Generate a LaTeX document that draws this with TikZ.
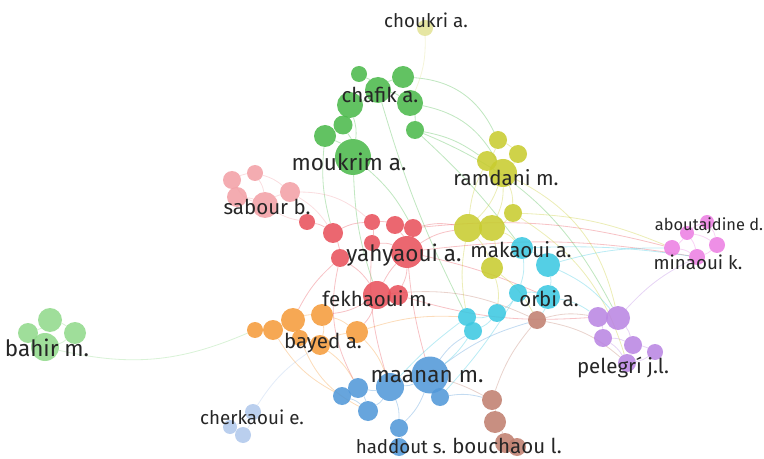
\documentclass[tikz,border=0pt]{standalone}
\usepackage{fontspec}
\setmainfont{Fira Sans}
\usetikzlibrary{positioning}

\definecolor{cgreen}{RGB}{76,186,76}
\definecolor{clgreen}{RGB}{146,218,140}
\definecolor{clyellow}{RGB}{226,226,150}
\definecolor{cred}{RGB}{232,82,92}
\definecolor{cpink}{RGB}{242,160,166}
\definecolor{cyellow}{RGB}{200,204,48}
\definecolor{ccyan}{RGB}{60,200,225}
\definecolor{cbrown}{RGB}{192,128,112}
\definecolor{cpurple}{RGB}{186,134,226}
\definecolor{cmag}{RGB}{236,128,226}
\definecolor{corange}{RGB}{245,156,60}
\definecolor{clblue}{RGB}{176,200,236}
\definecolor{cblue}{RGB}{82,152,216}

\pgfdeclarelayer{bg}
\pgfsetlayers{bg,main}

\begin{document}
\begin{tikzpicture}[x=0.03cm,y=-0.03cm,
		au/.style={circle,inner sep=0pt,fill opacity=.88},
		rad/.style={minimum size=#1*1.707pt},
		lab/.style={text=black!85,inner sep=0pt},
		xl/.style={font=\fontsize{19.2}{19.2}\selectfont},
		lg/.style={font=\fontsize{17.5}{17.5}\selectfont},
		md/.style={font=\fontsize{16}{16}\selectfont},
		sm/.style={font=\fontsize{14}{14}\selectfont},
		lk/.style={draw opacity=.35,line width=.7pt,bend left=12}]
		\useasboundingbox (0,0) rectangle (764,459);

		% green cluster
		\node[au,fill=clyellow,rad=8] (choukri) at (425,28) {};
		\node[au,fill=cgreen,rad=8] (ch1) at (359,74) {};
		\node[au,fill=cgreen,rad=13] (chafik) at (378,90) {};
		\node[au,fill=cgreen,rad=11] (ch3) at (403,77) {};
		\node[au,fill=cgreen,rad=13] (ch4) at (350,105) {};
		\node[au,fill=cgreen,rad=13] (ch5) at (410,103) {};
		\node[au,fill=cgreen,rad=9.5] (ch6) at (343,125) {};
		\node[au,fill=cgreen,rad=11] (ch7) at (325,136) {};
		\node[au,fill=cgreen,rad=9] (ch8) at (415,130) {};
		\node[au,fill=cgreen,rad=18] (moukrim) at (353,157) {};

		% pink cluster
		\node[au,fill=cpink,rad=9] (sb1) at (232,180) {};
		\node[au,fill=cpink,rad=8] (sb2) at (255,173) {};
		\node[au,fill=cpink,rad=10] (sb3) at (237,197) {};
		\node[au,fill=cpink,rad=13] (sabour) at (265,205) {};
		\node[au,fill=cpink,rad=10] (sb5) at (290,192) {};

		% red cluster
		\node[au,fill=cred,rad=8] (r1) at (307,222) {};
		\node[au,fill=cred,rad=10] (r2) at (333,233) {};
		\node[au,fill=cred,rad=8] (r3) at (372,222) {};
		\node[au,fill=cred,rad=9] (r4) at (395,225) {};
		\node[au,fill=cred,rad=9] (r5) at (413,228) {};
		\node[au,fill=cred,rad=8] (r6) at (372,243) {};
		\node[au,fill=cred,rad=16] (yahyaoui) at (407,252) {};
		\node[au,fill=cred,rad=9] (r8) at (340,258) {};
		\node[au,fill=cred,rad=14] (fekhaoui) at (377,295) {};
		\node[au,fill=cred,rad=10] (r10) at (398,295) {};

		% yellow cluster
		\node[au,fill=cyellow,rad=9] (y1) at (498,140) {};
		\node[au,fill=cyellow,rad=9] (y2) at (518,154) {};
		\node[au,fill=cyellow,rad=10] (y3) at (487,161) {};
		\node[au,fill=cyellow,rad=14] (ramdani) at (503,173) {};
		\node[au,fill=cyellow,rad=9] (y5) at (513,213) {};
		\node[au,fill=cyellow,rad=14] (y6) at (468,228) {};
		\node[au,fill=cyellow,rad=13] (y7) at (492,228) {};
		\node[au,fill=cyellow,rad=11] (y8) at (492,268) {};

		% cyan cluster
		\node[au,fill=ccyan,rad=11] (makaoui) at (522,248) {};
		\node[au,fill=ccyan,rad=12] (c2) at (548,265) {};
		\node[au,fill=ccyan,rad=9] (c3) at (518,293) {};
		\node[au,fill=ccyan,rad=12] (orbi) at (548,297) {};
		\node[au,fill=ccyan,rad=9] (c5) at (497,313) {};
		\node[au,fill=ccyan,rad=9] (c6) at (467,317) {};
		\node[au,fill=ccyan,rad=9] (c7) at (473,331) {};

		% brown cluster
		\node[au,fill=cbrown,rad=9] (br1) at (537,320) {};
		\node[au,fill=cbrown,rad=10] (br2) at (492,400) {};
		\node[au,fill=cbrown,rad=11] (br3) at (495,422) {};
		\node[au,fill=cbrown,rad=10] (bouchaou) at (505,443) {};
		\node[au,fill=cbrown,rad=9] (br5) at (517,447) {};

		% purple cluster
		\node[au,fill=cpurple,rad=10] (p1) at (598,317) {};
		\node[au,fill=cpurple,rad=12] (p2) at (618,318) {};
		\node[au,fill=cpurple,rad=9] (p3) at (603,338) {};
		\node[au,fill=cpurple,rad=9] (p4) at (633,345) {};
		\node[au,fill=cpurple,rad=8] (p5) at (655,352) {};
		\node[au,fill=cpurple,rad=9] (pelegri) at (627,363) {};

		% magenta cluster
		\node[au,fill=cmag,rad=7] (m1) at (687,233) {};
		\node[au,fill=cmag,rad=7] (aboutajdine) at (707,222) {};
		\node[au,fill=cmag,rad=8] (m3) at (717,245) {};
		\node[au,fill=cmag,rad=8] (m4) at (672,248) {};
		\node[au,fill=cmag,rad=8] (minaoui) at (697,257) {};

		% light green cluster
		\node[au,fill=clgreen,rad=12] (bh1) at (50,320) {};
		\node[au,fill=clgreen,rad=11] (bh2) at (75,333) {};
		\node[au,fill=clgreen,rad=10] (bh3) at (28,333) {};
		\node[au,fill=clgreen,rad=14] (bahir) at (45,347) {};

		% orange cluster
		\node[au,fill=corange,rad=8] (o1) at (255,330) {};
		\node[au,fill=corange,rad=10] (o2) at (273,330) {};
		\node[au,fill=corange,rad=12] (o3) at (293,320) {};
		\node[au,fill=corange,rad=11] (o4) at (322,315) {};
		\node[au,fill=corange,rad=8] (o5) at (300,338) {};
		\node[au,fill=corange,rad=10] (bayed) at (320,345) {};
		\node[au,fill=corange,rad=11] (o7) at (357,332) {};

		% light blue cluster
		\node[au,fill=clblue,rad=8] (ck1) at (253,412) {};
		\node[au,fill=clblue,rad=8] (ck2) at (243,435) {};
		\node[au,fill=clblue,rad=7] (cherkaoui) at (230,427) {};

		% blue cluster
		\node[au,fill=cblue,rad=18.5] (maanan) at (430,375) {};
		\node[au,fill=cblue,rad=14] (bl2) at (390,387) {};
		\node[au,fill=cblue,rad=10] (bl3) at (358,388) {};
		\node[au,fill=cblue,rad=9] (bl4) at (342,396) {};
		\node[au,fill=cblue,rad=10] (bl5) at (368,411) {};
		\node[au,fill=cblue,rad=9] (bl6) at (440,397) {};
		\node[au,fill=cblue,rad=9] (bl7) at (399,428) {};
		\node[au,fill=cblue,rad=9] (haddout) at (399,447) {};

		\begin{pgfonlayer}{bg}
		% links
		\path[draw=clgreen] (bahir) edge[lk,bend right=18] (o1);
		\path[draw=clblue] (ck1) edge[lk] (bayed);
		\path[draw=clyellow] (choukri) edge[lk] (ch5);
		\path[draw=cgreen] (ch1) edge[lk] (chafik) (chafik) edge[lk] (ch3) (chafik) edge[lk] (ch4)
			(chafik) edge[lk] (ch5) (ch4) edge[lk] (ch6) (ch6) edge[lk] (ch7) (ch5) edge[lk] (ch8)
			(ch7) edge[lk] (moukrim) (ch6) edge[lk] (moukrim) (ch4) edge[lk] (moukrim)
			(ch3) edge[lk,bend left=30] (y1) (ch5) edge[lk,bend left=25] (ramdani) (ch8) edge[lk] (y3)
			(ch8) edge[lk,bend left=5] (makaoui) (moukrim) edge[lk,bend right=8] (fekhaoui)
			(moukrim) edge[lk,bend left=10] (r5) (ch7) edge[lk,bend right=10] (r2)
			(chafik) edge[lk,bend right=5] (c6) (ch8) edge[lk,bend left=20] (p2);
		\path[draw=cpink] (sb1) edge[lk] (sb2) (sb1) edge[lk] (sb3) (sb2) edge[lk] (sabour)
			(sb3) edge[lk] (sabour) (sabour) edge[lk] (sb5) (sb2) edge[lk] (sb5) (sb1) edge[lk,bend right=20] (sabour)
			(sabour) edge[lk,bend right=10] (r1) (sb5) edge[lk] (r2) (sb5) edge[lk,bend left=20] (r3);
		\path[draw=cred] (r1) edge[lk] (r2) (r2) edge[lk] (r8) (r3) edge[lk] (r4) (r4) edge[lk] (r5)
			(r3) edge[lk] (r6) (r6) edge[lk] (yahyaoui) (r4) edge[lk] (yahyaoui) (r5) edge[lk] (yahyaoui)
			(r8) edge[lk] (fekhaoui) (fekhaoui) edge[lk] (r10) (yahyaoui) edge[lk] (r10)
			(yahyaoui) edge[lk,bend right=8] (fekhaoui) (r2) edge[lk] (r3)
			(yahyaoui) edge[lk] (y6) (r5) edge[lk] (y6) (yahyaoui) edge[lk,bend left=8] (minaoui)
			(r5) edge[lk,bend left=10] (m4) (r10) edge[lk,bend right=10] (p1)
			(fekhaoui) edge[lk] (o4) (r8) edge[lk,bend right=10] (o3) (fekhaoui) edge[lk] (o7)
			(yahyaoui) edge[lk,bend left=5] (orbi) (r8) edge[lk,bend right=20] (bl3)
			(yahyaoui) edge[lk,bend right=5] (maanan) (r6) edge[lk,bend right=10] (bl2);
		\path[draw=cyellow] (y1) edge[lk] (y2) (y1) edge[lk] (y3) (y3) edge[lk] (ramdani) (y2) edge[lk] (ramdani)
			(ramdani) edge[lk] (y5) (ramdani) edge[lk] (y6) (ramdani) edge[lk] (y7) (y6) edge[lk] (y7)
			(y5) edge[lk] (y7) (y7) edge[lk] (y8) (y6) edge[lk] (y8) (y3) edge[lk,bend right=10] (y6)
			(ramdani) edge[lk,bend left=25] (p2) (y5) edge[lk,bend left=10] (m4)
			(y7) edge[lk] (makaoui) (y8) edge[lk] (c5) (y6) edge[lk,bend right=10] (c6)
			(y5) edge[lk,bend left=20] (pelegri) (y8) edge[lk] (br1);
		\path[draw=ccyan] (makaoui) edge[lk] (c2) (makaoui) edge[lk] (c3) (c2) edge[lk] (orbi)
			(c3) edge[lk] (orbi) (c3) edge[lk] (c5) (c5) edge[lk] (c6) (c6) edge[lk] (c7) (c5) edge[lk] (c7)
			(c2) edge[lk,bend left=8] (m4) (makaoui) edge[lk,bend left=5] (minaoui)
			(orbi) edge[lk] (p1) (c2) edge[lk] (p2) (orbi) edge[lk] (br1)
			(c7) edge[lk,bend left=8] (maanan) (c6) edge[lk,bend right=5] (bl2)
			(c3) edge[lk,bend left=5] (bl6);
		\path[draw=cbrown] (br1) edge[lk] (p1) (br1) edge[lk,bend right=10] (br2) (br2) edge[lk] (br3)
			(br3) edge[lk] (bouchaou) (bouchaou) edge[lk] (br5) (br1) edge[lk,bend left=15] (pelegri)
			(br2) edge[lk,bend right=5] (maanan) (br1) edge[lk,bend right=15] (fekhaoui);
		\path[draw=cpurple] (p1) edge[lk] (p2) (p1) edge[lk] (p3) (p2) edge[lk] (p4) (p3) edge[lk] (p4)
			(p4) edge[lk] (p5) (p3) edge[lk] (pelegri) (p4) edge[lk] (pelegri) (p5) edge[lk] (pelegri)
			(p2) edge[lk,bend left=10] (minaoui);
		\path[draw=cmag] (m1) edge[lk] (aboutajdine) (aboutajdine) edge[lk] (m3) (m1) edge[lk] (m4)
			(m4) edge[lk] (minaoui) (m3) edge[lk] (minaoui) (m1) edge[lk] (minaoui) (m1) edge[lk] (m3);
		\path[draw=clgreen] (bh1) edge[lk] (bh2) (bh1) edge[lk] (bh3) (bh3) edge[lk] (bahir)
			(bh2) edge[lk] (bahir);
		\path[draw=corange] (o1) edge[lk] (o2) (o2) edge[lk] (o3) (o3) edge[lk] (o4) (o3) edge[lk] (o5)
			(o5) edge[lk] (bayed) (o4) edge[lk] (bayed) (bayed) edge[lk] (o7) (o4) edge[lk] (o7)
			(o2) edge[lk,bend right=15] (bl4) (bayed) edge[lk] (bl3) (o7) edge[lk] (bl2)
			(o5) edge[lk,bend right=20] (bl5) (o7) edge[lk,bend left=10] (c6);
		\path[draw=clblue] (ck1) edge[lk] (ck2) (ck2) edge[lk] (cherkaoui) (ck1) edge[lk] (cherkaoui);
		\path[draw=cblue] (maanan) edge[lk] (bl2) (bl2) edge[lk] (bl3) (bl3) edge[lk] (bl4)
			(bl3) edge[lk] (bl5) (bl2) edge[lk] (bl5) (maanan) edge[lk] (bl6) (bl2) edge[lk] (bl7)
			(bl7) edge[lk] (haddout) (maanan) edge[lk] (bl7) (bl4) edge[lk] (bl5)
			(maanan) edge[lk] (c7) (bl6) edge[lk] (br2) (maanan) edge[lk,bend left=10] (br1);
		\end{pgfonlayer}

		% labels
		\node[lab,md] at (426,20) {choukri a.};
		\node[lab,lg] at (380,95) {chafik a.};
		\node[lab,xl] at (349,162) {moukrim a.};
		\node[lab,lg] at (267,207) {sabour b.};
		\node[lab,lg] at (506,178) {ramdani m.};
		\node[lab,xl] at (404,255) {yahyaoui a.};
		\node[lab,lg] at (521,250) {makaoui a.};
		\node[lab,sm] at (709,226) {aboutajdine d.};
		\node[lab,md] at (698,262) {minaoui k.};
		\node[lab,lg] at (377,299) {fekhaoui m.};
		\node[lab,lg] at (549,299) {orbi a.};
		\node[lab,xl] at (47,348) {bahir m.};
		\node[lab,lg] at (323,343) {bayed a.};
		\node[lab,xl] at (427,377) {maanan m.};
		\node[lab,lg] at (623,367) {pelegrí j.l.};
		\node[lab,md] at (252,417) {cherkaoui e.};
		\node[lab,md] at (401,447) {haddout s.};
		\node[lab,lg] at (507,446) {bouchaou l.};
	\end{tikzpicture}
\end{document}
